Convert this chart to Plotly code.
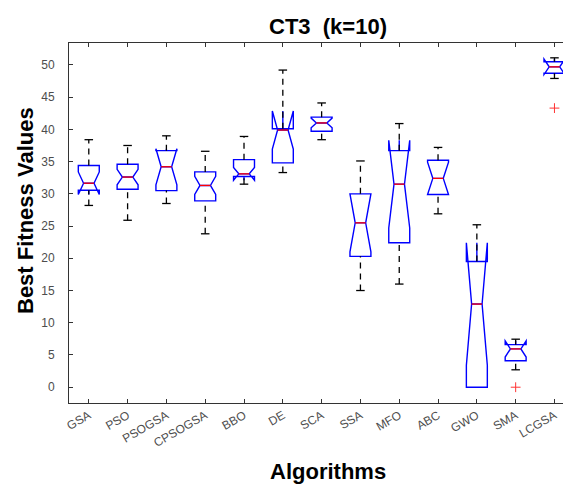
import plotly.graph_objects as go

# Box-plot statistics of the best fitness values per algorithm
algorithms = ["GSA", "PSO", "PSOGSA", "CPSOGSA", "BBO", "DE", "SCA",
              "SSA", "MFO", "ABC", "GWO", "SMA", "LCGSA"]
q1_vals = [30.55, 30.7, 30.5, 28.9, 32.7, 34.8, 39.7, 20.3, 22.4, 29.9, 0.0, 4.1, 48.7]
median_vals = [31.65, 32.6, 34.2, 31.3, 33.1, 39.9, 41.0, 25.5, 31.5, 32.4, 12.9, 5.94, 49.7]
q3_vals = [34.4, 34.6, 36.7, 33.4, 35.3, 40.1, 41.9, 30.0, 36.7, 35.2, 19.5, 6.6, 50.5]
notch_vals = [1.75, 1.2, 2.8, 1.4, 1.0, 2.95, 0.75, 4.5, 6.8, 2.5, 9.5, 1.26, 1.2]
lower_whisker = [28.2, 25.9, 28.5, 23.8, 31.5, 33.3, 38.4, 15.0, 16.0, 26.9, 0.0, 2.7, 47.9]
upper_whisker = [38.4, 37.5, 39.0, 36.6, 38.9, 49.2, 44.1, 35.1, 40.9, 37.2, 25.2, 7.45, 51.1]
outlier_algorithms = ["SMA", "LCGSA"]
outlier_values = [0.0, 43.3]

FONT = "Liberation Sans, Arial, sans-serif"
BOX_W = 0.54
NOTCH_W = 0.25          # notch depth on each side, as a fraction of the box width
CAP_HALF = 0.11

positions = list(range(1, len(algorithms) + 1))

fig = go.Figure()

# notched boxes (whiskers are drawn separately in black)
fig.add_trace(go.Box(
    x=positions, q1=q1_vals, median=median_vals, q3=q3_vals,
    lowerfence=q1_vals, upperfence=q3_vals,
    notched=True, notchspan=notch_vals, notchwidth=NOTCH_W,
    width=BOX_W, whiskerwidth=0, boxpoints=False,
    line=dict(color="#0000ff", width=1.4),
    fillcolor="rgba(0,0,0,0)", showlegend=False, hoverinfo="skip",
))

# dashed whiskers
wx, wy = [], []
for p, lo, a, b, hi in zip(positions, lower_whisker, q1_vals, q3_vals, upper_whisker):
    wx += [p, p, None, p, p, None]
    wy += [lo, a, None, b, hi, None]
fig.add_trace(go.Scatter(
    x=wx, y=wy, mode="lines", showlegend=False, hoverinfo="skip",
    line=dict(color="black", width=1.3, dash="6px,5px"),
))

# whisker caps
cx, cy = [], []
for p, lo, a, b, hi in zip(positions, lower_whisker, q1_vals, q3_vals, upper_whisker):
    if hi > b:
        cx += [p - CAP_HALF, p + CAP_HALF, None]
        cy += [hi, hi, None]
    if lo < a:
        cx += [p - CAP_HALF, p + CAP_HALF, None]
        cy += [lo, lo, None]
fig.add_trace(go.Scatter(
    x=cx, y=cy, mode="lines", showlegend=False, hoverinfo="skip",
    line=dict(color="black", width=1.3),
))

# red medians across the notch
half_med = BOX_W / 2 * (1 - 2 * NOTCH_W)
mx, my = [], []
for p, m in zip(positions, median_vals):
    mx += [p - half_med, p + half_med, None]
    my += [m, m, None]
fig.add_trace(go.Scatter(
    x=mx, y=my, mode="lines", showlegend=False, hoverinfo="skip",
    line=dict(color="#ff0000", width=1.3),
))

# outliers
fig.add_trace(go.Scatter(
    x=[positions[algorithms.index(a)] for a in outlier_algorithms],
    y=outlier_values, mode="markers", showlegend=False, hoverinfo="skip",
    marker=dict(symbol="cross-thin", size=7, line=dict(color="#ff3333", width=1)),
))

axis_color = "#333333"
tick_font = dict(family=FONT, size=12, color="#4d4d4d")

fig.update_layout(
    width=563, height=486, autosize=False,
    margin=dict(l=69, r=0, t=43, b=83),
    paper_bgcolor="white", plot_bgcolor="white",
    title=dict(text="<b>CT3\u00a0 (k=10)</b>", xref="container", yref="container",
               x=328 / 563, y=1 - 26 / 486, xanchor="center", yanchor="middle",
               font=dict(family=FONT, size=22, color="black")),
    xaxis=dict(range=[0.49, 13.22], tickvals=positions, ticktext=algorithms,
               tickangle=-30, ticks="inside", ticklen=4, tickcolor=axis_color,
               showline=True, linecolor=axis_color, linewidth=1, mirror="ticks",
               showgrid=False, zeroline=False, tickfont=tick_font),
    yaxis=dict(range=[-2.45, 53.4], tick0=0, dtick=5, ticks="inside", ticklen=4,
               tickcolor=axis_color, showline=True, linecolor=axis_color, linewidth=1,
               showgrid=False, zeroline=False, tickfont=tick_font, ticklabelstandoff=11),
    annotations=[
        dict(text="<b>Best Fitness Values</b>", xref="paper", yref="paper",
             x=(25 - 69) / 494, y=(403 - 211) / 360, xanchor="center", yanchor="middle",
             textangle=-90, showarrow=False,
             font=dict(family=FONT, size=22, color="black")),
        dict(text="<b>Algorithms</b>", xref="paper", yref="paper",
             x=(328 - 69) / 494, y=(403 - 471) / 360, xanchor="center", yanchor="middle",
             showarrow=False, font=dict(family=FONT, size=22, color="black")),
    ],
)

fig.write_html("out.html")
